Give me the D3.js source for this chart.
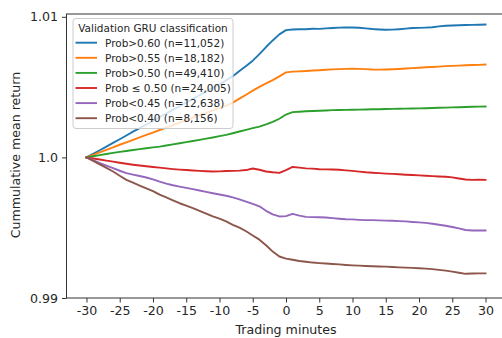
<!DOCTYPE html>
<html>
<head>
<meta charset="utf-8">
<script src="https://cdn.jsdelivr.net/npm/d3@7"></script>
<style>
  html, body { margin: 0; padding: 0; background: #fff; }
  svg { display: block; font-family: "DejaVu Sans", sans-serif; }
</style>
</head>
<body>
<svg id="chart" width="502" height="338"></svg>
<script>
// ---- data (returns expressed in basis points relative to 1.0) ----
const minutes = d3.range(-30, 31);
const seriesNames = [
  "Prob>0.60 (n=11,052)",
  "Prob>0.55 (n=18,182)",
  "Prob>0.50 (n=49,410)",
  "Prob \u2264 0.50 (n=24,005)",
  "Prob<0.45 (n=12,638)",
  "Prob<0.40 (n=8,156)"
];
const colors = ["#1f77b4", "#ff7f0e", "#2ca02c", "#d62728", "#9467bd", "#8c564b"];

const prob60 = [0,2.5,5.1,7.7,10.3,12.9,15.6,18.3,20.8,23.4,26.0,28.6,31.2,33.8,36.4,39.0,41.6,44.2,46.8,49.5,52.0,54.8,57.8,61.5,65.0,68.8,73.5,78.5,83.2,87.5,90.5,
  91.0,91.2,91.2,91.5,91.4,91.8,92.0,92.3,92.5,92.4,92.2,91.8,91.3,91.0,90.8,90.9,91.2,91.6,92.0,92.1,92.3,92.6,93.2,93.6,93.8,94.0,94.2,94.3,94.4,94.5];
const prob55 = [0,1.8,3.6,5.4,7.2,9.0,10.7,12.5,14.2,16.0,17.7,19.5,21.2,23.0,24.7,26.5,28.2,30.0,31.7,33.4,35.1,36.9,39.0,41.8,44.6,47.5,50.2,52.6,55.0,57.6,60.5,
  61.0,61.2,61.5,61.8,62.0,62.3,62.6,62.8,63.0,63.1,63.0,62.8,62.5,62.4,62.5,62.7,62.9,63.2,63.5,63.8,64.1,64.3,64.6,64.9,65.1,65.3,65.5,65.7,65.8,66.0];
const prob50 = [0,0.8,1.6,2.4,3.2,3.9,4.6,5.3,5.9,6.5,7.1,7.7,8.5,9.3,10.1,10.9,11.7,12.5,13.4,14.2,15.1,16.0,17.2,18.4,19.6,20.8,21.9,23.5,25.3,27.5,30.5,
  32.2,32.5,32.8,33.0,33.2,33.4,33.6,33.7,33.8,33.9,34.0,34.1,34.2,34.3,34.4,34.5,34.6,34.7,34.8,34.9,35.0,35.1,35.3,35.4,35.6,35.7,35.9,36.0,36.1,36.2];
const probLe50 = [0,-0.8,-1.5,-2.3,-3.0,-3.8,-4.5,-5.2,-5.8,-6.3,-6.8,-7.3,-7.8,-8.3,-8.7,-9.0,-9.3,-9.6,-9.8,-10.0,-9.9,-9.7,-9.6,-9.4,-9.0,-7.9,-8.8,-10.0,-10.6,-11.0,-9.0,
  -6.8,-7.3,-7.8,-8.0,-8.4,-8.5,-8.6,-8.8,-9.2,-9.6,-10.1,-10.6,-10.9,-11.2,-11.5,-11.7,-12.0,-12.3,-12.5,-12.8,-13.0,-13.3,-13.6,-13.8,-14.2,-15.0,-15.7,-16.0,-15.9,-16.0];
const prob45 = [0,-2.0,-4.0,-5.9,-7.7,-9.5,-11.2,-12.2,-13.2,-14.3,-15.6,-17.2,-18.6,-19.8,-20.8,-21.7,-22.6,-23.5,-24.5,-25.5,-26.4,-27.3,-28.4,-29.8,-31.4,-33.0,-34.8,-38.0,-40.5,-42.0,-41.8,
  -40.2,-41.4,-42.3,-42.5,-42.6,-42.7,-43.2,-43.6,-44.0,-44.1,-44.4,-44.6,-44.6,-44.8,-45.0,-45.1,-45.3,-45.5,-45.9,-46.2,-46.6,-47.2,-47.9,-48.6,-49.5,-50.5,-51.6,-52.0,-51.9,-52.0];
const prob40 = [0,-2.5,-5.0,-7.5,-10.0,-13.0,-16.0,-18.0,-20.0,-22.0,-24.0,-26.5,-28.5,-30.5,-32.6,-34.3,-36.0,-38.0,-40.0,-42.0,-43.5,-45.5,-48.0,-50.0,-52.5,-55.5,-58.5,-62.5,-67.0,-70.5,-72.0,
  -72.8,-73.7,-74.2,-74.8,-75.2,-75.5,-75.8,-76.1,-76.5,-76.8,-77.0,-77.2,-77.4,-77.6,-77.7,-78.0,-78.2,-78.4,-78.6,-78.8,-79.1,-79.5,-80.0,-80.5,-81.2,-82.0,-82.8,-82.6,-82.5,-82.5];

const xTicks = [-30,-25,-20,-15,-10,-5,0,5,10,15,20,25,30];
const yTicks = [0.99, 1.0, 1.01];
const yTickLabels = ["0.99", "1.0", "1.01"];
const legendTitle = "Validation GRU classification";
const xLabel = "Trading minutes";
const yLabel = "Cummulative mean return";

const seriesValues = [prob60, prob55, prob50, probLe50, prob45, prob40];
const series = seriesValues.map((vals, i) => ({
  name: seriesNames[i],
  color: colors[i],
  points: minutes.map((m, j) => ({ m, v: 1 + vals[j] / 10000 }))
}));

// ---- layout ----
const svg = d3.select("#chart");
const mLeft = 66.5, mRight = 505.5, mTop = 14, mBottom = 298;
const x = d3.scaleLinear().domain([-33, 33]).range([mLeft, mRight]);
const y = d3.scaleLinear().domain([0.99, 1.0102]).range([mBottom, mTop]);
const textColor = "#262626";

// lines
const line = d3.line().x(d => x(d.m)).y(d => y(d.v));
svg.append("g").selectAll("path").data(series).join("path")
  .attr("d", d => line(d.points))
  .attr("fill", "none")
  .attr("stroke", d => d.color)
  .attr("stroke-width", 1.9)
  .attr("stroke-linejoin", "round")
  .attr("stroke-linecap", "square");

// axes
const xAxis = d3.axisBottom(x).tickValues(xTicks).tickFormat(d => String(d)).tickSizeOuter(0).tickSize(4.5).tickPadding(4);
const gx = svg.append("g").attr("transform", `translate(0,${mBottom})`).call(xAxis);
const yAxis = d3.axisLeft(y).tickValues(yTicks).tickFormat((d, i) => yTickLabels[i]).tickSizeOuter(0).tickSize(4.5).tickPadding(4);
const gy = svg.append("g").attr("transform", `translate(${mLeft},0)`).call(yAxis);
[gx, gy].forEach(g => {
  g.select(".domain").remove();
  g.selectAll(".tick line").attr("stroke", "#333").attr("stroke-width", 1);
  g.selectAll(".tick text").attr("fill", textColor).style("font-size", "12.6px").style("font-family", "DejaVu Sans");
});

// spines
svg.append("rect")
  .attr("x", mLeft).attr("y", mTop)
  .attr("width", mRight - mLeft).attr("height", mBottom - mTop)
  .attr("fill", "none").attr("stroke", "#333").attr("stroke-width", 1);

// axis labels
svg.append("text")
  .attr("x", (mLeft + mRight) / 2).attr("y", 334)
  .attr("text-anchor", "middle")
  .attr("fill", textColor).style("font-size", "12.6px")
  .text(xLabel);
svg.append("text")
  .attr("transform", `translate(20,${(mTop + mBottom) / 2 - 1}) rotate(-90)`)
  .attr("text-anchor", "middle")
  .attr("fill", textColor).style("font-size", "12.6px")
  .text(yLabel);

// legend
const lg = svg.append("g");
lg.append("rect")
  .attr("x", 73).attr("y", 18.5).attr("width", 160).attr("height", 110)
  .attr("rx", 3).attr("ry", 3)
  .attr("fill", "white").attr("fill-opacity", 0.8)
  .attr("stroke", "#cccccc").attr("stroke-width", 1);
lg.append("text")
  .attr("x", 153).attr("y", 31.5)
  .attr("text-anchor", "middle")
  .attr("fill", textColor).style("font-size", "10.5px")
  .text(legendTitle);
const items = lg.selectAll("g.item").data(series).join("g")
  .attr("class", "item")
  .attr("transform", (d, i) => `translate(0,${42.7 + i * 15.1})`);
items.append("line")
  .attr("x1", 75.5).attr("x2", 97).attr("y1", 0).attr("y2", 0)
  .attr("stroke", d => d.color).attr("stroke-width", 1.9);
items.append("text")
  .attr("x", 105).attr("y", 3.8)
  .attr("fill", textColor).style("font-size", "10.5px")
  .text(d => d.name);
</script>
</body>
</html>
